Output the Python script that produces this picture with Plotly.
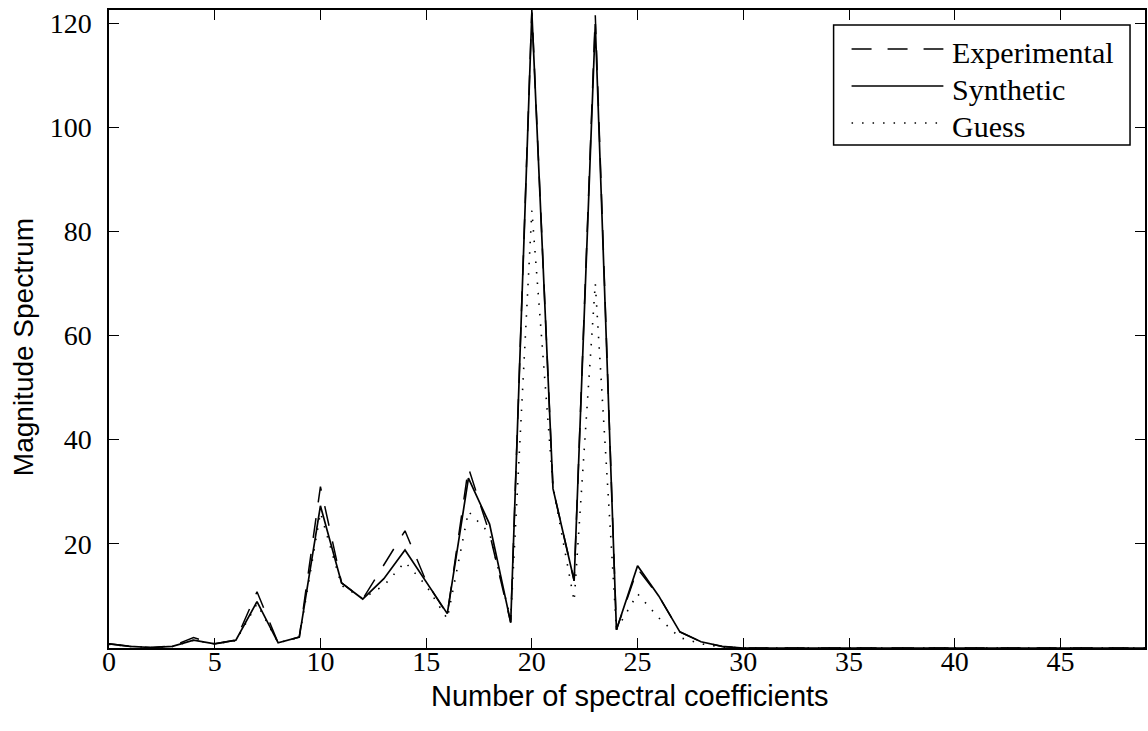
import plotly.graph_objects as go

# Spectral coefficient index
coeff = list(range(50))

experimental = [0.8, 0.3, 0.1, 0.4, 2.0, 0.8, 1.5, 10.8, 1.0, 2.1,
                31.0, 12.5, 9.4, 16.0, 22.5, 12.8, 6.4, 34.6, 22.0, 4.9,
                122.5, 30.6, 12.9, 121.5, 3.5, 15.2, 10.0, 3.1, 1.2, 0.3] + [0.0] * 20
synthetic = [0.8, 0.3, 0.1, 0.3, 1.5, 0.8, 1.5, 8.9, 1.0, 2.1,
             27.3, 12.5, 9.4, 13.3, 18.8, 12.6, 6.6, 32.6, 23.8, 4.9,
             122.0, 30.6, 12.9, 119.8, 3.5, 15.8, 10.0, 3.1, 1.2, 0.3] + [0.0] * 20
guess = [0.7, 0.3, 0.1, 0.3, 1.5, 0.8, 1.4, 8.5, 1.0, 2.0,
         26.0, 12.0, 9.5, 12.0, 16.5, 12.0, 5.6, 26.2, 22.0, 5.5,
         84.0, 31.0, 9.0, 70.0, 3.5, 10.4, 5.8, 2.0, 0.8, 0.2] + [0.0] * 20

x_ticks = [0, 5, 10, 15, 20, 25, 30, 35, 40, 45]
y_ticks = [20, 40, 60, 80, 100, 120]

series = [
    ("Experimental", experimental, "20px,16px", 1.5),
    ("Synthetic", synthetic, "solid", 1.7),
    ("Guess", guess, "1.5px,9px", 1.6),
]

fig = go.Figure()
for name, vals, dash, w in series:
    fig.add_trace(go.Scatter(x=coeff, y=vals, mode="lines", name=name,
                             line=dict(color="black", width=w, dash=dash),
                             showlegend=False))

serif = "Liberation Serif, Times New Roman, serif"
sans = "Liberation Sans, Arial, sans-serif"

axis_common = dict(showgrid=False, zeroline=False, showline=True, linecolor="black",
                   linewidth=1.5, mirror="ticks", ticks="inside", ticklen=10,
                   tickwidth=1, tickcolor="black",
                   tickfont=dict(family=serif, size=28, color="black"))

fig.update_xaxes(range=[0, 49], tickvals=x_ticks, ticklabelstandoff=-12, **axis_common)
fig.update_yaxes(range=[0, 122.5], tickvals=y_ticks, ticklabelstandoff=10, **axis_common)

# Pixel offsets converted to paper coordinates for titles and legend
W, H = 1148, 731
ml, mr, mt, mb = 109, 1, 10, 83
pw, ph = W - ml - mr, H - mt - mb


def px(x):
    return (x - ml) / pw


def py(y):
    return 1 - (y - mt) / ph


fig.add_annotation(xref="paper", yref="paper", x=px(631), y=py(696),
                   text="Number of spectral coefficients", showarrow=False,
                   xanchor="center", yanchor="middle",
                   font=dict(family=sans, size=29, color="black"))
fig.add_annotation(xref="paper", yref="paper", x=px(23), y=py(347),
                   text="Magnitude Spectrum", showarrow=False, textangle=-90,
                   xanchor="center", yanchor="middle",
                   font=dict(family=sans, size=28, color="black"))

fig.add_shape(type="rect", xref="paper", yref="paper",
              x0=px(835), x1=px(1132), y0=py(145), y1=py(25),
              line=dict(color="black", width=1.5), fillcolor="white", layer="above")
for i, (name, vals, dash, w) in enumerate(series):
    yy = py(49 + i * 37)
    fig.add_shape(type="line", xref="paper", yref="paper",
                  x0=px(853), x1=px(945), y0=yy, y1=yy,
                  line=dict(color="black", width=w, dash=dash), layer="above")
    fig.add_annotation(xref="paper", yref="paper", x=px(952), y=py(52 + i * 37),
                       text=name, showarrow=False, xanchor="left", yanchor="middle",
                       font=dict(family=serif, size=30, color="black"))

fig.update_layout(width=W, height=H, margin=dict(l=ml, r=mr, t=mt, b=mb),
                  paper_bgcolor="white", plot_bgcolor="white", showlegend=False)

fig.write_html("out.html")
